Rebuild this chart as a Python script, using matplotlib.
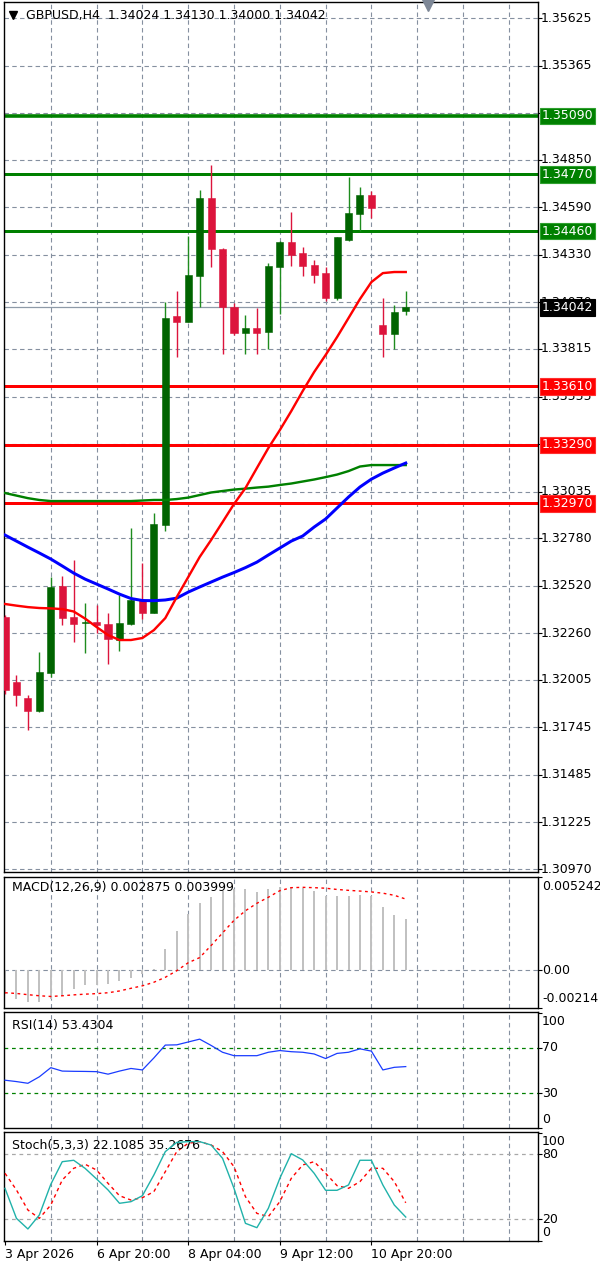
import matplotlib
matplotlib.use('Agg')
import matplotlib.pyplot as plt

plt.rcParams['font.family'] = ['DejaVu Sans']

W, H, DPI = 600, 1266, 100

# ---------------- data ----------------
opens = [1.32349, 1.31995, 1.31904, 1.31834, 1.32044, 1.32518, 1.32347, 1.32314, 1.32323, 1.32309,
         1.32223, 1.32309, 1.32442, 1.32372, 1.32852, 1.33995, 1.33964, 1.34214, 1.34642, 1.34361,
         1.34046, 1.33900, 1.33928, 1.33909, 1.34261, 1.34398, 1.34338, 1.34274, 1.34229, 1.34092,
         1.34411, 1.34553, 1.34657, 1.33946, 1.33895, 1.34024]
highs = [1.32359, 1.32031, 1.31922, 1.32159, 1.32569, 1.32573, 1.32660, 1.32423, 1.32414, 1.32369,
         1.32469, 1.32834, 1.32646, 1.32916, 1.34073, 1.34133, 1.34433, 1.34684, 1.34821, 1.34365,
         1.34068, 1.34000, 1.34037, 1.34283, 1.34405, 1.34566, 1.34374, 1.34301, 1.34265, 1.34430,
         1.34757, 1.34699, 1.34680, 1.34095, 1.34055, 1.34130]
lows = [1.31930, 1.31862, 1.31730, 1.31830, 1.32022, 1.32305, 1.32213, 1.32153, 1.32259, 1.32091,
        1.32163, 1.32305, 1.32336, 1.32369, 1.32821, 1.33769, 1.33960, 1.34043, 1.34261, 1.33786,
        1.33891, 1.33786, 1.33786, 1.33813, 1.34006, 1.34268, 1.34214, 1.34174, 1.34079, 1.34085,
        1.34405, 1.34462, 1.34529, 1.33769, 1.33813, 1.34000]
closes = [1.31949, 1.31922, 1.31834, 1.32049, 1.32514, 1.32341, 1.32310, 1.32323, 1.32305, 1.32227,
          1.32314, 1.32442, 1.32372, 1.32856, 1.33982, 1.33964, 1.34219, 1.34642, 1.34361, 1.34043,
          1.33900, 1.33928, 1.33900, 1.34268, 1.34398, 1.34329, 1.34268, 1.34219, 1.34092, 1.34426,
          1.34557, 1.34657, 1.34584, 1.33895, 1.34015, 1.34042]

ma_red = [1.32420, 1.32411, 1.32403, 1.32398, 1.32396, 1.32392, 1.32379, 1.32340, 1.32294, 1.32250,
          1.32223, 1.32223, 1.32234, 1.32277, 1.32343, 1.32458, 1.32567, 1.32677, 1.32770, 1.32868,
          1.32967, 1.33054, 1.33164, 1.33273, 1.33371, 1.33475, 1.33585, 1.33689, 1.33782, 1.33880,
          1.33984, 1.34088, 1.34181, 1.34230, 1.34236, 1.34236]
ma_blue = [1.32797, 1.32764, 1.32731, 1.32699, 1.32666, 1.32628, 1.32589, 1.32556, 1.32529, 1.32502,
           1.32474, 1.32450, 1.32439, 1.32438, 1.32442, 1.32452, 1.32485, 1.32513, 1.32540, 1.32567,
           1.32592, 1.32619, 1.32649, 1.32688, 1.32726, 1.32764, 1.32792, 1.32841, 1.32885, 1.32945,
           1.33005, 1.33060, 1.33103, 1.33136, 1.33164, 1.33191]
ma_green = [1.33027, 1.33013, 1.32999, 1.32989, 1.32983, 1.32983, 1.32983, 1.32983, 1.32983, 1.32983,
            1.32983, 1.32983, 1.32986, 1.32989, 1.32989, 1.32994, 1.33002, 1.33016, 1.33030, 1.33038,
            1.33046, 1.33051, 1.33057, 1.33062, 1.33071, 1.33079, 1.33090, 1.33101, 1.33114, 1.33128,
            1.33147, 1.33172, 1.33180, 1.33180, 1.33180, 1.33180]

macd_hist = [-0.00136, -0.00165, -0.00180, -0.00180, -0.00163, -0.00146, -0.00105, -0.00085, -0.00083, -0.00080,
             -0.00061, -0.00046, -0.00021, 0.00005, 0.00119, 0.00218, 0.00318, 0.00375, 0.00413, 0.00447,
             0.00456, 0.00456, 0.00437, 0.00456, 0.00469, 0.00466, 0.00460, 0.00447, 0.00417, 0.00417,
             0.00417, 0.00422, 0.00417, 0.00355, 0.00309, 0.002875]
macd_signal = [-0.00128, -0.00132, -0.00139, -0.00145, -0.00149, -0.00145, -0.00140, -0.00136, -0.00133, -0.00128,
               -0.00118, -0.00103, -0.00089, -0.00069, -0.00041, -0.00004, 0.00041, 0.00070, 0.00138, 0.00209,
               0.00280, 0.00334, 0.00376, 0.00410, 0.00447, 0.00464, 0.00466, 0.00464, 0.00461, 0.00454,
               0.00449, 0.00445, 0.00440, 0.00433, 0.00421, 0.003999]

rsi = [41.5, 40.3, 38.8, 44.5, 52.5, 49.5, 49.3, 49.2, 49.0, 46.8,
       49.5, 51.8, 50.5, 61.0, 72.3, 72.5, 75.0, 77.5, 72.0, 66.0,
       63.0, 63.0, 63.0, 66.0, 67.5, 66.5, 66.0, 64.5, 60.5, 65.0,
       66.0, 69.0, 67.0, 50.5, 52.8, 53.4304]

stoch_main = [48.6, 20.9, 11.1, 24.0, 52.3, 73.2, 74.5, 67.0, 57.2, 47.1,
              34.8, 36.3, 41.8, 60.9, 82.5, 91.0, 91.7, 91.7, 88.6, 76.3,
              48.6, 16.3, 12.3, 30.2, 57.8, 80.6, 74.8, 62.5, 46.8, 46.8,
              51.7, 74.5, 74.5, 51.7, 33.2, 22.1085]
stoch_signal = [62.5, 47.1, 28.6, 20.9, 33.2, 56.3, 67.1, 70.8, 65.5, 53.2,
                41.8, 37.8, 40.0, 45.5, 64.0, 82.5, 90.2, 91.7, 88.6, 82.5,
                68.6, 40.9, 25.5, 22.5, 36.3, 57.8, 70.2, 73.2, 62.5, 51.1,
                48.6, 54.8, 67.1, 67.1, 54.8, 35.2676]

price_ticks = [1.35625, 1.35365, 1.35105, 1.34850, 1.34590, 1.34330, 1.34070, 1.33815, 1.33555, 1.33295,
               1.33035, 1.32780, 1.32520, 1.32260, 1.32005, 1.31745, 1.31485, 1.31225, 1.30970]
hidden_price_labels = [1.35105, 1.33295]   # fully covered by level boxes in the chart
resistance_levels = [1.35090, 1.34770, 1.34460]
support_levels = [1.33610, 1.33290, 1.32970]
last_price = 1.34042
header_text = "GBPUSD,H4  1.34024 1.34130 1.34000 1.34042"
macd_title = "MACD(12,26,9) 0.002875 0.003999"
rsi_title = "RSI(14) 53.4304"
stoch_title = "Stoch(5,3,3) 22.1085 35.2676"
macd_ticks = [0.005242, 0.0, -0.00214]
macd_tick_labels = ["0.005242", "0.00", "-0.00214"]
rsi_ticks = [100, 70, 30, 0]
stoch_ticks = [100, 80, 20, 0]
time_labels = ['3 Apr 2026', '6 Apr 20:00', '8 Apr 04:00', '9 Apr 12:00', '10 Apr 20:00']
time_label_bars = [0, 8, 16, 24, 32]

# ---------------- layout ----------------
fig = plt.figure(figsize=(W / DPI, H / DPI), dpi=DPI, facecolor='white')
PX = 0.72  # points per pixel


def px_axes(left, top, right, bottom):
    return fig.add_axes([left / W, 1 - bottom / H, (right - left) / W, (bottom - top) / H])


XL = (-0.087, 46.55)
GRID_C = '#8590a0'
grid_x = list(range(4, 47, 4))
n = len(closes)
xs = list(range(n))


def style_panel(ax):
    ax.set_xlim(*XL)
    ax.set_facecolor('white')
    for s in ax.spines.values():
        s.set_color('black')
        s.set_linewidth(1.0)
    ax.set_xticks([])
    for gx in grid_x:
        ax.axvline(gx, color=GRID_C, lw=0.8, ls=(0, (4, 3)), zorder=0.5)


def right_labels(ax, vals, labels, offsets_px=None, xoff_px=4):
    ax.yaxis.tick_right()
    ax.set_yticks(vals)
    ax.set_yticklabels([])
    ax.tick_params(axis='y', direction='out', length=3, width=0.8, color='black')
    if offsets_px is None:
        offsets_px = [0] * len(vals)
    for v, lab, off in zip(vals, labels, offsets_px):
        if not lab:
            continue
        ax.annotate(lab, xy=(1, v), xycoords=('axes fraction', 'data'),
                    xytext=(xoff_px * PX, -off * PX), textcoords='offset points',
                    ha='left', va='center', fontsize=9, color='black',
                    annotation_clip=False, zorder=3)


# ---------- main price panel ----------
ax = px_axes(4, 2, 538, 872)
style_panel(ax)
ax.set_ylim(1.30954, 1.35713)
for t in price_ticks:
    ax.axhline(t, color=GRID_C, lw=0.8, ls=(0, (4, 3)), zorder=0.5)
right_labels(ax, price_ticks,
             ['' if t in hidden_price_labels else f"{t:.5f}" for t in price_ticks], xoff_px=3)

# current price line
ax.axhline(last_price, color='#8e9aa8', lw=0.9, zorder=1)

# level lines
for i, lv in enumerate(resistance_levels):
    ax.axhline(lv, color='#008000', lw=(3.6 if i == 0 else 3.0) * PX, zorder=1.5)
for lv in support_levels:
    ax.axhline(lv, color='#ff0000', lw=3.0 * PX, zorder=1.5)

# candles
for i in xs:
    o, h, l, c = opens[i], highs[i], lows[i], closes[i]
    up = c >= o
    body_c = '#006400' if up else '#dc143c'
    wick_c = '#1e8c1e' if up else '#dc143c'
    ax.vlines(i, l, h, color=wick_c, lw=1.0 * PX * 1.4, zorder=3)
    hgt = max(abs(c - o), 0.00009)
    ax.bar(i, hgt, bottom=min(o, c) - (hgt - abs(c - o)) / 2, width=0.62,
           color=body_c, edgecolor=body_c, lw=0.4, zorder=3.5)

# moving averages
ax.plot(xs, ma_green, color='#008000', lw=2.4 * PX, zorder=4, solid_joinstyle='round')
ax.plot(xs, ma_blue, color='#0000ff', lw=3.0 * PX, zorder=4, solid_joinstyle='round')
ax.plot(xs, ma_red, color='#ff0000', lw=2.4 * PX, zorder=4, solid_joinstyle='round')


# price boxes
def price_box(val, fc, ec):
    ax.annotate(f"{val:.5f}", xy=(1, val), xycoords=('axes fraction', 'data'),
                xytext=(3.5 * PX, 0), textcoords='offset points', ha='left', va='center',
                fontsize=9, color='white', annotation_clip=False, zorder=10,
                bbox=dict(boxstyle='square,pad=0.13', fc=fc, ec=ec, lw=0.8))


for lv in resistance_levels:
    price_box(lv, '#008000', '#2fa02f')
for lv in support_levels:
    price_box(lv, '#ff0000', '#ff3030')
price_box(last_price, '#000000', '#000000')

# header
fig.text(26 / W, 1 - 15 / H, header_text, fontsize=9, color='black', ha='left', va='center')
fig.lines.append(plt.Line2D([13 / W], [1 - 15 / H], marker='v', ms=5.5, color='black',
                            transform=fig.transFigure, lw=0))
fig.lines.append(plt.Line2D([428 / W], [1 - 5 / H], marker='v', ms=9, color='#7d8796',
                            transform=fig.transFigure, lw=0))

# ---------- MACD panel ----------
axm = px_axes(4, 877, 538, 1008)
style_panel(axm)
axm.set_ylim(-0.00214, 0.005242)
axm.axhline(0, color=GRID_C, lw=0.8, ls=(0, (4, 3)), zorder=0.5)
axm.vlines(xs, 0, macd_hist, color='#c0c0c0', lw=1.5 * PX * 1.3, zorder=2)
axm.plot(xs, macd_signal, color='#ff0000', lw=1.0, ls=(0, (2, 2.5)), zorder=3)
right_labels(axm, macd_ticks, macd_tick_labels, [10, 0, -10])
axm.text(8 / 534, 0.92, macd_title, transform=axm.transAxes, fontsize=9, ha='left', va='center')

# ---------- RSI panel ----------
axr = px_axes(4, 1012, 538, 1128)
style_panel(axr)
axr.set_ylim(-0.4, 101.3)
for lv in (70, 30):
    axr.axhline(lv, color='#008000', lw=0.9, ls=(0, (3, 3)), zorder=1)
axr.plot(xs, rsi, color='#1a3cff', lw=0.9, zorder=3)
right_labels(axr, rsi_ticks, [str(t) for t in rsi_ticks], [8, 0, 0, -8])
axr.text(8 / 534, 1 - 13 / 116, rsi_title, transform=axr.transAxes, fontsize=9, ha='left', va='center')

# ---------- Stochastic panel ----------
axs = px_axes(4, 1132, 538, 1241)
style_panel(axs)
axs.set_ylim(0, 100.6)
for lv in (80, 20):
    axs.axhline(lv, color='#a8a8a8', lw=0.9, ls=(0, (3, 3)), zorder=1)
axs.plot(xs, stoch_signal, color='#ff0000', lw=1.0, ls=(0, (2.5, 2.5)), zorder=3)
axs.plot(xs, stoch_main, color='#20b2aa', lw=1.0, zorder=4)
right_labels(axs, stoch_ticks, [str(t) for t in stoch_ticks], [9, 0, 0, -9])
axs.text(8 / 534, 1 - 13 / 109, stoch_title, transform=axs.transAxes, fontsize=9, ha='left', va='center')
axs.set_xticks(time_label_bars)
axs.set_xticklabels(time_labels, fontsize=9, ha='left')
axs.tick_params(axis='x', direction='out', length=3, width=0.8, pad=2)
for lbl in axs.get_xticklabels():
    lbl.set_horizontalalignment('left')

fig.savefig('out.png', dpi=DPI, facecolor='white')
